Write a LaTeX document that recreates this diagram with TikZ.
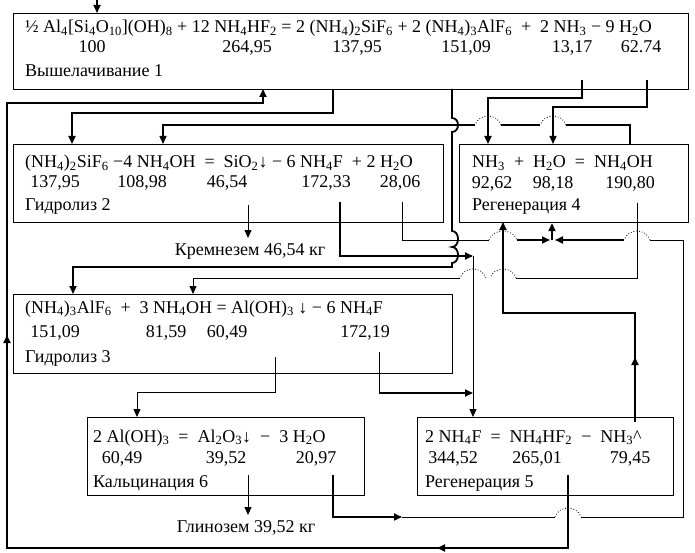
\documentclass[tikz,border=0pt]{standalone}
\usepackage{fontspec}
\setmainfont{Liberation Serif}
\usetikzlibrary{arrows.meta}
\newcommand{\lo}[1]{\textsubscript{#1}}
\begin{document}
\begin{tikzpicture}[x=1pt,y=-1pt, font=\fontsize{18}{21}\selectfont,
  box/.style={draw, line width=1.2pt, anchor=north west, inner sep=0pt},
  txt/.style={anchor=base west, inner sep=0pt},
  num/.style={anchor=base, inner sep=0pt},
  fat/.style={line width=1.8pt},
  med/.style={line width=1.3pt},
  slim/.style={line width=0.8pt},
  arr/.style={-{Triangle[length=8pt,width=7pt]}},
  hop/.style={dotted, line width=0.8pt},
]
\useasboundingbox (0,0) rectangle (695,553);
% boxes
\node[box, minimum width=675pt, minimum height=76pt] (b1) at (13,13) {};
\node[box, minimum width=430pt, minimum height=78pt] (b2) at (13,144) {};
\node[box, minimum width=229pt, minimum height=78pt] (b4) at (459,144) {};
\node[box, minimum width=439pt, minimum height=79pt] (b3) at (13,294) {};
\node[box, minimum width=277pt, minimum height=78pt] (b6) at (87,417) {};
\node[box, minimum width=256pt, minimum height=78pt] (b5) at (417,417) {};
% box 1 texts
\node[txt] (t1a) at (25,33) {½ Al\lo{4}[Si\lo{4}O\lo{10}](OH)\lo{8} + 12 NH\lo{4}HF\lo{2} = 2 (NH\lo{4})\lo{2}SiF\lo{6} + 2 (NH\lo{4})\lo{3}AlF\lo{6} ~+~ 2 NH\lo{3} − 9 H\lo{2}O};
\node[num] (n1a) at (92,53) {100};
\node[num] (n1b) at (247,53) {264,95};
\node[num] (n1c) at (357,53) {137,95};
\node[num] (n1d) at (466,53) {151,09};
\node[num] (n1e) at (572,53) {13,17};
\node[num] (n1f) at (641,53) {62.74};
\node[txt] (t1c) at (25,77) {Вышелачивание 1};
% box 2 texts
\node[txt] (t2a) at (25,168) {(NH\lo{4})\lo{2}SiF\lo{6} −4 NH\lo{4}OH ~=~ SiO\lo{2}↓ − 6 NH\lo{4}F ~+ 2 H\lo{2}O};
\node[num] (n2a) at (55,188) {137,95};
\node[num] (n2b) at (142,188) {108,98};
\node[num] (n2c) at (227,188) {46,54};
\node[num] (n2d) at (326,188) {172,33};
\node[num] (n2e) at (400,188) {28,06};
\node[txt] (t2c) at (25,211) {Гидролиз 2};
% box 4 texts
\node[txt] (t4a) at (472,168) {NH\lo{3} ~+~ H\lo{2}O ~=~ NH\lo{4}OH};
\node[num] (n4a) at (492,189) {92,62};
\node[num] (n4b) at (553,189) {98,18};
\node[num] (n4c) at (630,189) {190,80};
\node[txt] (t4c) at (472,211) {Регенерация 4};
% box 3 texts
\node[txt] (t3a) at (25,313) {(NH\lo{4})\lo{3}AlF\lo{6} ~+~ 3 NH\lo{4}OH = Al(OH)\lo{3} ↓ − 6 NH\lo{4}F};
\node[num] (n3a) at (55,337) {151,09};
\node[num] (n3b) at (166,337) {81,59};
\node[num] (n3c) at (227,337) {60,49};
\node[num] (n3d) at (365,337) {172,19};
\node[txt] (t3c) at (25,362) {Гидролиз 3};
% box 6 texts
\node[txt] (t6a) at (93,442) {2 Al(OH)\lo{3} ~=~ Al\lo{2}O\lo{3}↓ ~−~ 3 H\lo{2}O};
\node[num] (n6a) at (122,463) {60,49};
\node[num] (n6b) at (226,463) {39,52};
\node[num] (n6c) at (316,463) {20,97};
\node[txt] (t6c) at (93,487) {Кальцинация 6};
% box 5 texts
\node[txt] (t5a) at (425,442) {2 NH\lo{4}F ~=~ NH\lo{4}HF\lo{2} ~−~ NH\lo{3}\^{}};
\node[num] (n5a) at (453,463) {344,52};
\node[num] (n5b) at (537,463) {265,01};
\node[num] (n5c) at (630,463) {79,45};
\node[txt] (t5c) at (425,487) {Регенерация 5};
% products
\node[num] (p1) at (250,255) {Кремнезем 46,54 кг};
\node[num] (p2) at (246,532) {Глинозем 39,52 кг};

% ---- connectors ----
\coordinate (in) at (97,0);
\draw[fat,arr] (in) -- (in |- b1.north);
% NH4HF2 recycle
\draw[fat,arr] (568,475) -- (568,548) -- (7,548) -- (7,103) -- (263,103) -- (263,89);
\draw[fat,arr] (470,548) -- (437,548);
\draw[fat,arr] (7,360) -- (7,335);
% SiF6 to hydrolysis 2
\draw[fat,arr] (333,89) -- (333,113) -- (72,113) -- (72,144);
% AlF6 to hydrolysis 3 (with bumps)
\draw[fat,arr] (452,89) -- (452,118) .. controls (460,118) and (460,132) .. (452,132)
  -- (452,231) .. controls (460,231) and (460,247) .. (452,247)
  .. controls (460,247) and (460,263) .. (452,263) -- (452,267) -- (73,267) -- (73,294);
% NH3 and H2O from box 1 to box 4
\draw[fat,arr] (582,80) -- (582,98) -- (488,98) -- (488,144);
\draw[med,arr] (647,80) -- (647,107) -- (553,107) -- (553,144);
% NH4OH from box 4 top to box 2
\draw[med] (630,144) -- (630,125) -- (566,125);
\draw[hop] (566,125) .. controls (562,113) and (544,113) .. (540,125);
\draw[med] (540,125) -- (501,125);
\draw[hop] (501,125) .. controls (497,113) and (479,113) .. (475,125);
\draw[med,arr] (475,125) -- (163,125) -- (163,144);
% NH4F from box 2
\draw[fat,arr] (340,202) -- (340,256) -- (473,256);
% H2O from box 2
\draw[slim] (402,202) -- (402,240) -- (489,240);
\draw[hop] (489,240) .. controls (493,228) and (513,228) .. (517,240);
\draw[fat,arr] (517,240) -- (550,240);
% H2O from box 6 loop
\draw[fat,arr] (333,475) -- (333,517) -- (402,517);
\draw[slim] (402,517) -- (555,517);
\draw[hop] (555,517) .. controls (559,505) and (577,505) .. (581,517);
\draw[slim] (581,517) -- (683,517) -- (683,240) -- (650,240);
\draw[hop] (650,240) .. controls (646,228) and (628,228) .. (624,240);
\draw[fat,arr] (624,240) -- (555,240);
\coordinate (jn) at (552,240);
\draw[fat,arr] (jn) -- (jn |- b4.south);
% NH4OH from box 4 bottom to box 3
\draw[slim] (637,203) -- (637,278) -- (516,278);
\draw[hop] (516,278) .. controls (512,266) and (494,266) .. (490,278);
\draw[hop] (486,278) .. controls (482,266) and (464,266) .. (460,278);
\draw[slim,arr] (460,278) -- (193,278) -- (193,294);
% NH4F down to box 5
\draw[slim,arr] (473,256) -- (473,417);
% NH3 from box 5 to box 4
\draw[fat,arr] (635,422) -- (635,313) -- (503,313) -- (503,222);
\draw[fat,arr] (635,385) -- (635,357);
% box 3 outputs
\draw[slim,arr] (275,357) -- (275,392) -- (137,392) -- (137,417);
\draw[slim] (379,352) -- (379,393);
\draw[fat,arr] (379,393) -- (473,393);
% products
\draw[slim,arr] (248,205) -- (248,238);
\draw[slim,arr] (248,475) -- (248,515);
\end{tikzpicture}
\end{document}
